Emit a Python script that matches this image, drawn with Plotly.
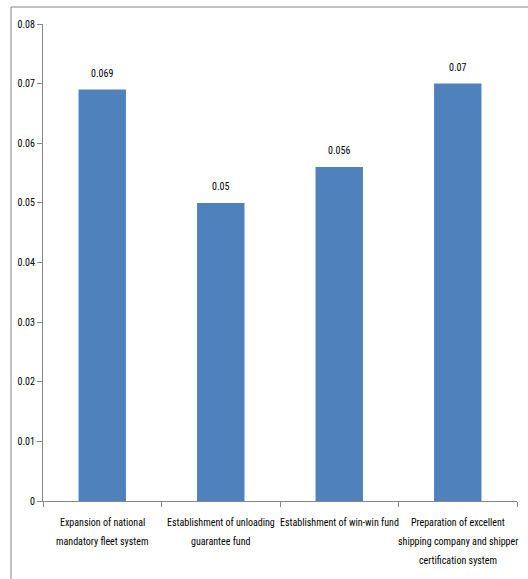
import plotly.graph_objects as go

# Policy measures and their weights
categories = [
    "Expansion of national mandatory fleet system",
    "Establishment of unloading guarantee fund",
    "Establishment of win-win fund",
    "Preparation of excellent shipping company and shipper certification system",
]
label_lines = [
    ["Expansion of national", "mandatory fleet system"],
    ["Establishment of unloading", "guarantee fund"],
    ["Establishment of win-win fund"],
    ["Preparation of excellent", "shipping company and shipper", "certification system"],
]
values = [0.069, 0.05, 0.056, 0.07]
value_labels = ["0.069", "0.05", "0.056", "0.07"]
y_ticks = [0, 0.01, 0.02, 0.03, 0.04, 0.05, 0.06, 0.07, 0.08]
y_tick_text = ["0", "0.01", "0.02", "0.03", "0.04", "0.05", "0.06", "0.07", "0.08"]

FONT = "Liberation Sans Narrow, Arial Narrow, Roboto Condensed, sans-serif"
FSIZE = 10
AXIS_GREY = "#868686"

W, H = 528, 579
ML, MR, MT, MB = 43, 11, 24, 78
plot_w = W - ML - MR
plot_h = H - MT - MB

fig = go.Figure(
    go.Bar(
        x=list(range(len(categories))),
        y=values,
        customdata=categories,
        marker=dict(color="#4F81BD", line=dict(width=0)),
        width=0.4,
        hovertemplate="%{customdata}: %{y}<extra></extra>",
    )
)

annotations = []
# value labels above bars
for i, (v, t) in enumerate(zip(values, value_labels)):
    annotations.append(dict(
        x=i, y=v, xref="x", yref="y", text=t, showarrow=False,
        yanchor="bottom", yshift=9,
        font=dict(family=FONT, size=FSIZE, color="#000000"),
    ))
# wrapped category labels below the axis
line_gap = 19
for i, lines in enumerate(label_lines):
    for j, ln in enumerate(lines):
        py = MT + plot_h + 21 + j * line_gap  # pixel centre of the line
        annotations.append(dict(
            x=i, xref="x", y=(H - MB - py) / plot_h, yref="paper",
            text=ln, showarrow=False, yanchor="middle",
            font=dict(family=FONT, size=FSIZE, color="#000000"),
        ))

# outer chart-area frame (top and left edges fall within the page)
x0 = (11 - ML) / plot_w
y0 = (H - MB - 7) / plot_h
shapes = [dict(
    type="rect", xref="paper", yref="paper",
    x0=x0, x1=1.2, y0=-0.3, y1=y0,
    line=dict(color=AXIS_GREY, width=1), fillcolor="rgba(0,0,0,0)", layer="below",
)]

fig.update_layout(
    width=W, height=H,
    margin=dict(l=ML, r=MR, t=MT, b=MB, pad=0),
    paper_bgcolor="white", plot_bgcolor="white",
    showlegend=False,
    font=dict(family=FONT, size=FSIZE, color="#000000"),
    annotations=annotations,
    shapes=shapes,
    xaxis=dict(
        range=[-0.5, len(categories) - 0.5],
        tickvals=[k - 0.5 for k in range(len(categories) + 1)],
        showticklabels=False,
        showline=True, linecolor=AXIS_GREY, linewidth=1,
        ticks="outside", ticklen=5, tickcolor=AXIS_GREY,
        showgrid=False, zeroline=False,
    ),
    yaxis=dict(
        range=[0, 0.08],
        tickvals=y_ticks, ticktext=y_tick_text,
        showline=True, linecolor=AXIS_GREY, linewidth=1,
        ticks="outside", ticklen=5, tickcolor=AXIS_GREY,
        showgrid=False, zeroline=False,
        tickfont=dict(family=FONT, size=FSIZE, color="#000000"),
    ),
)

fig.write_html("out.html")
